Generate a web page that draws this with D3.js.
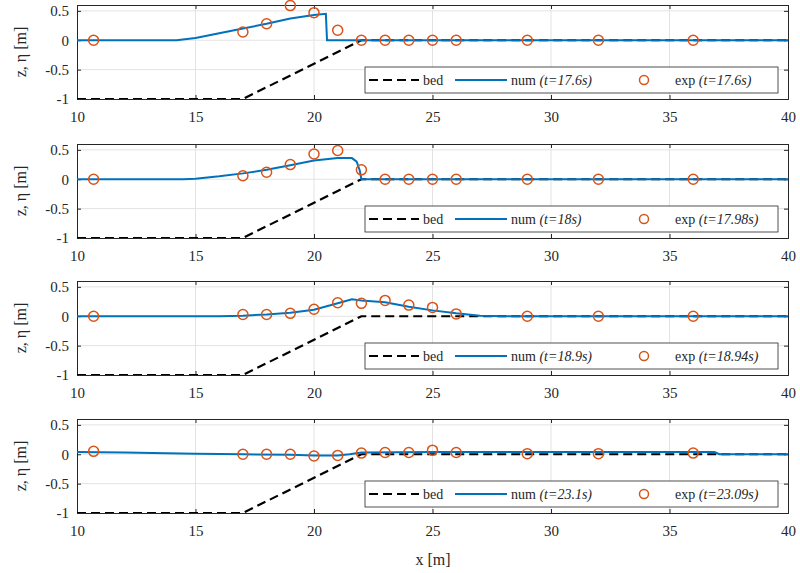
<!DOCTYPE html>
<html>
<head>
<meta charset="utf-8">
<script src="https://cdn.jsdelivr.net/npm/d3@7"></script>
<style>
  body { margin: 0; background: #fff; }
</style>
</head>
<body>
<div id="chart"></div>
<script>
// chart values
var bedX = [10, 17, 22, 40];
var bedY = [-1, -1, 0, 0];

var expX = [10.7, 17, 18, 19, 20, 21, 22, 23, 24, 25, 26, 29, 32, 36];
var exp1 = [0, 0.14, 0.28, 0.59, 0.47, 0.17, 0, 0, 0, 0, 0, 0, 0, 0];
var exp2 = [0, 0.06, 0.12, 0.25, 0.43, 0.49, 0.16, 0, 0, 0, 0, 0, 0, 0];
var exp3 = [0, 0.03, 0.03, 0.05, 0.12, 0.23, 0.22, 0.27, 0.19, 0.15, 0.04, 0, 0, 0];
var exp4 = [0.05, 0, 0, 0, -0.03, -0.02, 0.02, 0.03, 0.03, 0.07, 0.03, 0.01, 0.01, 0.02];

var num1X = [10, 14.2, 15, 16, 17, 18, 19, 20, 20.5, 20.55, 40];
var num1Y = [0, 0, 0.04, 0.12, 0.2, 0.28, 0.37, 0.43, 0.45, 0, 0];
var num2X = [10, 14.5, 15, 16, 17, 18, 19, 20, 21, 21.6, 21.8, 21.93, 22, 40];
var num2Y = [0, 0, 0.01, 0.05, 0.1, 0.16, 0.24, 0.32, 0.36, 0.36, 0.3, 0.15, 0, 0];
var num3X = [10, 16, 17, 18, 19, 20, 21, 21.6, 22, 23, 24, 25, 26, 27, 28, 40];
var num3Y = [0, 0, 0.01, 0.03, 0.06, 0.11, 0.22, 0.29, 0.27, 0.24, 0.16, 0.1, 0.05, 0.01, 0, 0];
var num4X = [10, 12, 15, 17, 19, 20, 21, 21.5, 22, 25, 30, 35, 36.9, 37.1, 40];
var num4Y = [0.04, 0.03, 0.01, 0, -0.01, -0.02, -0.02, 0, 0.03, 0.04, 0.04, 0.04, 0.04, 0, 0];

var numLabels = ["(t=17.6s)", "(t=18s)", "(t=18.9s)", "(t=23.1s)"];
var expLabels = ["(t=17.6s)", "(t=17.98s)", "(t=18.94s)", "(t=23.09s)"];

var xTicks = [10, 15, 20, 25, 30, 35, 40];
var yTicks = [-1, -0.5, 0, 0.5];
var yTickLabels = ["-1", "-0.5", "0", "0.5"];

var panels = [
  { numX: num1X, numY: num1Y, exp: exp1, numLab: numLabels[0], expLab: expLabels[0] },
  { numX: num2X, numY: num2Y, exp: exp2, numLab: numLabels[1], expLab: expLabels[1] },
  { numX: num3X, numY: num3Y, exp: exp3, numLab: numLabels[2], expLab: expLabels[2] },
  { numX: num4X, numY: num4Y, exp: exp4, numLab: numLabels[3], expLab: expLabels[3] }
];

var svgWidth = 800, svgHeight = 573;
var left = 77, right = 788;
var panelTops = [5, 144, 281, 419];
var panelHeight = 94;

var blue = "#0072BD", orange = "#D95319", axisColor = "#262626";
var serif = "Liberation Serif";

var svg = d3.select("#chart")
  .append("svg")
  .attr("width", svgWidth)
  .attr("height", svgHeight);

var xScale = d3.scaleLinear().domain([10, 40]).range([0, right - left]);

panels.forEach(function (p, i) {
  var top = panelTops[i];
  var w = right - left, h = panelHeight;
  var yScale = d3.scaleLinear().domain([-1, 0.6]).range([h, 0]);

  var g = svg.append("g").attr("transform", `translate(${left}, ${top})`);

  g.append("clipPath").attr("id", "clip" + i)
    .append("rect").attr("width", w).attr("height", h);

  // grid
  g.append("g").selectAll("line").data(xTicks.slice(1, -1)).enter().append("line")
    .attr("x1", d => xScale(d)).attr("x2", d => xScale(d))
    .attr("y1", 0).attr("y2", h)
    .attr("stroke", "#e3e3e3").attr("stroke-width", 1);
  g.append("g").selectAll("line").data(yTicks.slice(1)).enter().append("line")
    .attr("y1", d => yScale(d)).attr("y2", d => yScale(d))
    .attr("x1", 0).attr("x2", w)
    .attr("stroke", "#e3e3e3").attr("stroke-width", 1);

  // axes (ticks inside, MATLAB style)
  var bottomAxis = d3.axisBottom(xScale).tickValues(xTicks).tickSize(-4).tickPadding(12);
  var topAxis = d3.axisTop(xScale).tickValues(xTicks).tickSize(-4).tickFormat("");
  var leftAxis = d3.axisLeft(yScale).tickValues(yTicks).tickSize(-4).tickPadding(8)
    .tickFormat((d, k) => yTickLabels[k]);
  var rightAxis = d3.axisRight(yScale).tickValues(yTicks).tickSize(-4).tickFormat("");

  [
    g.append("g").attr("transform", `translate(0, ${h})`).call(bottomAxis),
    g.append("g").call(topAxis),
    g.append("g").call(leftAxis),
    g.append("g").attr("transform", `translate(${w}, 0)`).call(rightAxis)
  ].forEach(function (a) {
    a.attr("font-family", serif).attr("font-size", 15);
    a.select(".domain").attr("stroke", axisColor).attr("stroke-width", 1);
    a.selectAll(".tick line").attr("stroke", axisColor);
    a.selectAll(".tick text").attr("fill", axisColor).attr("font-family", serif);
  });

  var line = d3.line().x(d => xScale(d[0])).y(d => yScale(d[1]));
  var plot = g.append("g").attr("clip-path", `url(#clip${i})`);

  plot.append("path")
    .datum(d3.zip(bedX, bedY))
    .attr("d", line)
    .attr("fill", "none")
    .attr("stroke", "#000")
    .attr("stroke-width", 2.2)
    .attr("stroke-dasharray", "9,5");

  plot.append("path")
    .datum(d3.zip(p.numX, p.numY))
    .attr("d", line)
    .attr("fill", "none")
    .attr("stroke", blue)
    .attr("stroke-width", 2);

  g.append("g").selectAll("circle")
    .data(d3.zip(expX, p.exp))
    .enter()
    .append("circle")
    .attr("cx", d => xScale(d[0]))
    .attr("cy", d => yScale(d[1]))
    .attr("r", 5)
    .attr("fill", "none")
    .attr("stroke", orange)
    .attr("stroke-width", 1.5);

  // legend
  var lg = svg.append("g").attr("transform", `translate(365, ${top + h - 32})`);
  lg.append("rect")
    .attr("width", 413).attr("height", 26)
    .attr("fill", "#fff")
    .attr("stroke", axisColor).attr("stroke-width", 0.8);
  var ly = 13;
  lg.append("line").attr("x1", 4).attr("x2", 54).attr("y1", ly).attr("y2", ly)
    .attr("stroke", "#000").attr("stroke-width", 2.2).attr("stroke-dasharray", "9,5");
  lg.append("text").attr("x", 58).attr("y", ly + 4.5)
    .attr("font-family", serif).attr("font-size", 14).attr("fill", axisColor).text("bed");
  lg.append("line").attr("x1", 90).attr("x2", 142).attr("y1", ly).attr("y2", ly)
    .attr("stroke", blue).attr("stroke-width", 2);
  var t1 = lg.append("text").attr("x", 146).attr("y", ly + 4.5)
    .attr("font-family", serif).attr("font-size", 14).attr("fill", axisColor);
  t1.append("tspan").text("num ");
  t1.append("tspan").attr("font-style", "italic").text(p.numLab);
  lg.append("circle").attr("cx", 279).attr("cy", ly).attr("r", 4.5)
    .attr("fill", "none").attr("stroke", orange).attr("stroke-width", 1.5);
  var t2 = lg.append("text").attr("x", 310).attr("y", ly + 4.5)
    .attr("font-family", serif).attr("font-size", 14).attr("fill", axisColor);
  t2.append("tspan").text("exp ");
  t2.append("tspan").attr("font-style", "italic").text(p.expLab);

  // y label
  svg.append("text")
    .attr("transform", `translate(26, ${top + h / 2}) rotate(-90)`)
    .attr("text-anchor", "middle")
    .attr("font-family", serif)
    .attr("font-size", 16)
    .attr("fill", axisColor)
    .text("z, \u03B7 [m]");
});

// x label
svg.append("text")
  .attr("x", 433)
  .attr("y", 565)
  .attr("text-anchor", "middle")
  .attr("font-family", serif)
  .attr("font-size", 16)
  .attr("fill", axisColor)
  .text("x [m]");
</script>
</body>
</html>
